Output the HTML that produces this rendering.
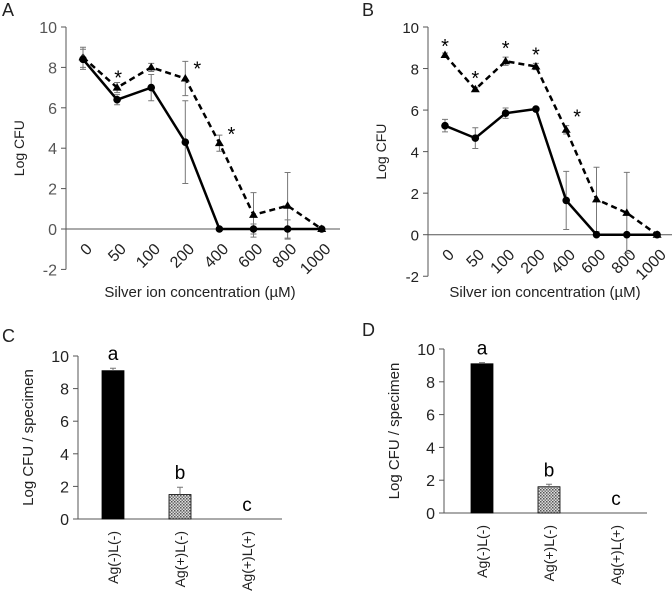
<!DOCTYPE html>
<html><head><meta charset="utf-8"><style>
html,body{margin:0;padding:0;background:#fff;}
svg{display:block;font-family:"Liberation Sans",sans-serif;}
</style></head><body>
<svg id="fig" width="672" height="593" viewBox="0 0 672 593">
<defs>
<pattern id="dots" width="3" height="3" patternUnits="userSpaceOnUse"><rect width="3" height="3" fill="#ddd"/><rect width="1.5" height="1.5" fill="#555"/><rect x="1.5" y="1.5" width="1.5" height="1.5" fill="#777"/></pattern>
</defs>
</svg>
<script>
const NS='http://www.w3.org/2000/svg';
const svg=document.getElementById('fig');
const catsLine=['0','50','100','200','400','600','800','1000'];
const yTicksLine=[-2,0,2,4,6,8,10];
const aSolid=[8.4,6.4,7.0,4.3,0,0,0,0];
const aSolidErr=[0.5,0.25,0.65,2.05,0,0.25,0.45,0];
const aDash=[8.5,7.0,8.0,7.45,4.25,0.7,1.15,0];
const aDashErr=[0.5,0.25,0.2,0.85,0.4,1.1,1.65,0];
const aStars=[1,3,4];
const bSolid=[5.25,4.65,5.85,6.05,1.65,0,0,0];
const bSolidErr=[0.3,0.5,0.25,0.05,1.4,0,0,0];
const bDash=[8.65,7.0,8.35,8.1,5.05,1.7,1.05,0];
const bDashErr=[0.1,0.1,0.2,0.15,0.2,1.55,1.95,0];
const bStars=[0,1,2,3,4];
const catsBar=['Ag(-)L(-)','Ag(+)L(-)','Ag(+)L(+)'];
const yTicksBar=[0,2,4,6,8,10];
const cVals=[9.1,1.5,0];
const cErr=[0.15,0.45,0];
const dVals=[9.1,1.6,0];
const dErr=[0.07,0.15,0];
const barLetters=['a','b','c'];

function el(tag,attrs,parent,text){const e=document.createElementNS(NS,tag);for(const k in attrs)e.setAttribute(k,attrs[k]);if(text!==undefined)e.textContent=text;(parent||svg).appendChild(e);return e;}

function lineChart(o){
  const g=el('g',{});
  
  
  const y=v=>o.y0+(v-0)*(o.y10-o.y0)/10;
  const x=i=>o.x0+i*o.dx;
  el('text',{x:o.lx,y:o.ly,'font-size':18,fill:'#222'},g,o.label);
  el('line',{x1:o.ax,y1:y(10),x2:o.ax,y2:y(-2),stroke:'#555','stroke-width':1},g);
  el('line',{x1:o.ax,y1:y(0),x2:o.axEnd,y2:y(0),stroke:'#555','stroke-width':1},g);
  yTicksLine.forEach(t=>{
    el('line',{x1:o.ax-5,y1:y(t),x2:o.ax,y2:y(t),stroke:'#555'},g);
    const tx=el('text',{x:o.ax-9,y:y(t)+6,'font-size':o.tfs,'text-anchor':'end',fill:o.tcol},g,String(t));
    
  });
  catsLine.forEach((c,i)=>{
    const tx=el('text',{x:0,y:0,'font-size':16,'text-anchor':'end',fill:'#222',transform:`translate(${x(i)+10},${y(0)+21}) rotate(-45)`},g,c);
    
  });
  const yl=el('text',{x:0,y:0,'font-size':14,'text-anchor':'middle',fill:'#222',transform:`translate(${o.ax-42},${y(4)}) rotate(-90)`},g,'Log CFU');
  
  const xl=el('text',{x:o.xtx,y:297,'font-size':15,'text-anchor':'middle',fill:'#222'},g,o.xt);
  
  [[o.dash,o.dashErr,'6,4','dashed-series'],[o.solid,o.solidErr,null,'solid-series']].forEach(([vals,err,da,nm])=>{
    vals.forEach((v,i)=>{if(err[i]>0){const e=el('path',{d:`M${x(i)},${y(v+err[i])}V${y(v-err[i])}M${x(i)-3},${y(v+err[i])}h6M${x(i)-3},${y(v-err[i])}h6`,stroke:'#777','stroke-width':1,fill:'none'},g);}});
    const p=el('polyline',{points:vals.map((v,i)=>x(i)+','+y(v)).join(' '),fill:'none',stroke:'#000','stroke-width':2.5},g);
    if(da)p.setAttribute('stroke-dasharray',da);
    
    vals.forEach((v,i)=>{
      let m;
      if(da){m=el('path',{d:`M${x(i)},${y(v)-4.5}l4.5,7.5h-9z`,fill:'#000'},g);}
      else{m=el('circle',{cx:x(i),cy:y(v),r:3.8,fill:'#000'},g);}
      
    });
  });
  o.stars.forEach(i=>{const s=el('text',{x:x(i)+o.sdx[i],y:y(o.dash[i]+o.dashErr[i])+o.sdy[i],'font-size':20,'text-anchor':'middle',fill:'#000'},g,'*');});
}
lineChart({name:'panel-a',label:'A',lx:2,ly:16,ax:66,axEnd:340,x0:83,dx:34.1,y0:229,y10:27,tfs:16,tcol:'#555',solid:aSolid,solidErr:aSolidErr,dash:aDash,dashErr:aDashErr,stars:aStars,sdx:[0,1,0,12,12,0,0,0],sdy:[0,2,0,14,6,0,0,0],xt:'Silver ion  concentration (µM)',xtx:200});
lineChart({name:'panel-b',label:'B',lx:362,ly:16,ax:428,axEnd:672,x0:445,dx:30.3,y0:234.7,y10:27,tfs:15,tcol:'#222',solid:bSolid,solidErr:bSolidErr,dash:bDash,dashErr:bDashErr,stars:bStars,sdx:[0,0,0,0,11,0,0,0],sdy:[0,-2,-2,-2,-2,0,0,0],xt:'Silver ion concentration   (µM)',xtx:545});

function barChart(o){
  const g=el('g',{});
  
  
  const y=v=>o.y0+v*(o.y10-o.y0)/10;
  el('text',{x:o.lx,y:o.ly,'font-size':18,fill:'#222'},g,o.label);
  el('line',{x1:o.ax,y1:y(10),x2:o.ax,y2:y(0),stroke:'#555'},g);
  el('line',{x1:o.ax,y1:y(0),x2:o.axEnd,y2:y(0),stroke:'#555'},g);
  yTicksBar.forEach(t=>{
    el('line',{x1:o.ax-5,y1:y(t),x2:o.ax,y2:y(t),stroke:'#555'},g);
    const tx=el('text',{x:o.ax-9,y:y(t)+6,'font-size':16,'text-anchor':'end',fill:'#222'},g,String(t));
    
  });
  const yl=el('text',{x:0,y:0,'font-size':15,'text-anchor':'middle',fill:'#222',transform:`translate(${o.ax-45},${y(5)}) rotate(-90)`},g,'Log CFU / specimen');
  
  catsBar.forEach((c,i)=>{
    const cx=o.x0+i*o.dx,v=o.vals[i],e=o.err[i];
    if(v>0){const b=el('rect',{x:cx-11,y:y(v),width:22,height:y(0)-y(v),fill:i===0?'#000':'url(#dots)',stroke:'#000','stroke-width':0.8},g);}
    if(e>0){el('path',{d:`M${cx},${y(v)}V${y(v+e)}M${cx-3},${y(v+e)}h6`,stroke:'#777',fill:'none'},g);}
    const lt=el('text',{x:cx,y:y(v+e)-8,'font-size':19,'text-anchor':'middle',fill:'#000'},g,barLetters[i]);
    
    const tx=el('text',{x:0,y:0,'font-size':14,'text-anchor':'end',fill:'#222',transform:`translate(${cx+5},${y(0)+12}) rotate(-90)`},g,c);
    
  });
}
barChart({name:'panel-c',label:'C',lx:2,ly:342,ax:78,axEnd:282,x0:113,dx:67,y0:519,y10:356,vals:cVals,err:cErr});
barChart({name:'panel-d',label:'D',lx:362,ly:336,ax:444,axEnd:647,x0:482,dx:67,y0:513,y10:349,vals:dVals,err:dErr});
</script>
</body></html>
